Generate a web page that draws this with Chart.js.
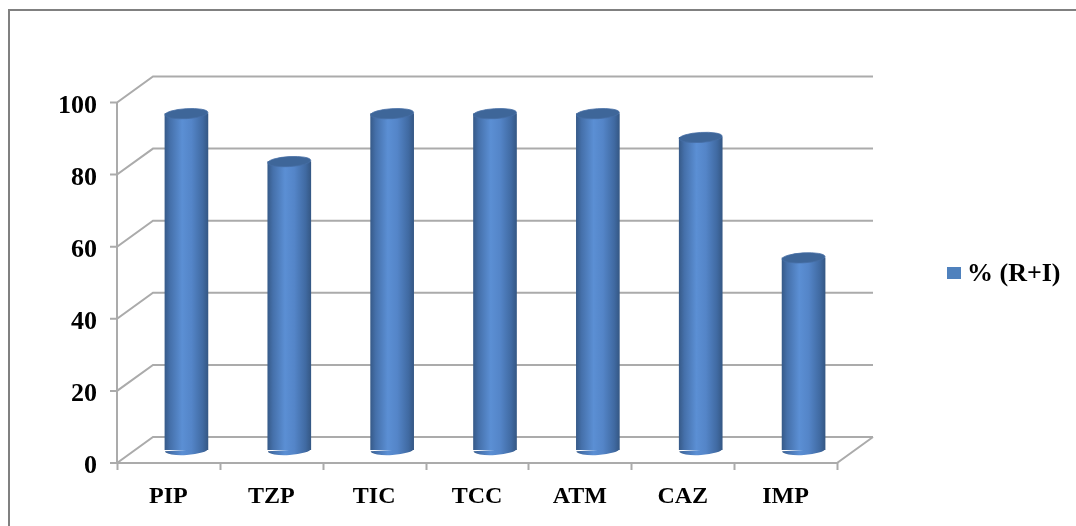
<!DOCTYPE html>
<html>
<head>
<meta charset="utf-8">
<title>% (R+I)</title>
<script src="https://cdn.jsdelivr.net/npm/chart.js@4/dist/chart.umd.min.js"></script>
<style>
  html, body { margin: 0; padding: 0; background: #ffffff; }
  #wrap { width: 1076px; height: 526px; position: relative; }
</style>
</head>
<body>
<div id="wrap"><canvas id="chart" width="1076" height="526"></canvas></div>
<script>
// Antibiotics tested and share of resistant + intermediate isolates
const categories = ['PIP', 'TZP', 'TIC', 'TCC', 'ATM', 'CAZ', 'IMP'];
const resistantPct = [93.3, 80, 93.3, 93.3, 93.3, 86.7, 53.3];
const yTicks = [0, 20, 40, 60, 80, 100];
const seriesLabel = '% (R+I)';

// depth offset of the 3D box: back wall sits up-right of the bar plane, front edge down-left
const DEPTH = { dx: 18, dy: -13 };
const BAR_W = 43;
const SERIF = '"Liberation Serif", "Times New Roman", serif';
const CAT_FONT = 'bold 24px ' + SERIF;
const VAL_FONT = 'bold 26px ' + SERIF;
const GRID = '#ababab';
const BAR_BLUE = '#4f81bd';

function cylinderGradient(ctx, cx, w) {
  if (!Number.isFinite(cx) || !Number.isFinite(w)) return BAR_BLUE;
  const g = ctx.createLinearGradient(cx - w / 2, 0, cx + w / 2, 0);
  g.addColorStop(0, '#375b8a');
  g.addColorStop(0.12, '#4570aa');
  g.addColorStop(0.4, '#5b8fd4');
  g.addColorStop(0.62, '#5485c8');
  g.addColorStop(0.88, '#406aa2');
  g.addColorStop(1, '#355885');
  return g;
}

const box3d = {
  id: 'box3d',
  beforeDatasetsDraw(chart) {
    const { ctx, chartArea: a, scales: { x, y } } = chart;
    ctx.save();
    // outer frame
    ctx.strokeStyle = '#808080';
    ctx.lineWidth = 2;
    ctx.beginPath();
    ctx.moveTo(9, 530); ctx.lineTo(9, 10); ctx.lineTo(1080, 10);
    ctx.stroke();

    ctx.lineWidth = 2;
    ctx.strokeStyle = GRID;
    const fx = a.left - DEPTH.dx, fy = -DEPTH.dy;
    yTicks.forEach(v => {
      const py = y.getPixelForValue(v);
      ctx.beginPath();
      // back wall gridline
      ctx.moveTo(a.right + DEPTH.dx, py + DEPTH.dy);
      ctx.lineTo(a.left + DEPTH.dx, py + DEPTH.dy);
      // side wall gridline
      ctx.lineTo(fx, py + fy);
      // tick on the front axis
      ctx.lineTo(fx - 7, py + fy);
      ctx.stroke();
    });
    // front vertical axis
    ctx.beginPath();
    ctx.moveTo(fx, y.getPixelForValue(yTicks[yTicks.length - 1]) + fy);
    ctx.lineTo(fx, y.getPixelForValue(0) + fy);
    // floor front edge and right edge
    const by = y.getPixelForValue(0);
    ctx.lineTo(a.right - DEPTH.dx, by + fy);
    ctx.lineTo(a.right + DEPTH.dx, by + DEPTH.dy);
    ctx.stroke();
    // category ticks under the front edge
    const step = (a.right - a.left) / categories.length;
    for (let i = 0; i <= categories.length; i++) {
      const tx = Math.round(fx + i * step) + 0.5;
      ctx.beginPath();
      ctx.moveTo(tx, by + fy);
      ctx.lineTo(tx, by + fy + 7);
      ctx.stroke();
    }

    // axis labels
    ctx.fillStyle = '#000000';
    ctx.font = VAL_FONT;
    ctx.textAlign = 'right';
    ctx.textBaseline = 'alphabetic';
    yTicks.forEach(v => {
      ctx.fillText(String(v), fx - 20, y.getPixelForValue(v) + fy + 10);
    });
    ctx.font = CAT_FONT;
    ctx.textAlign = 'center';
    categories.forEach((c, i) => {
      ctx.fillText(c, x.getPixelForValue(i) - DEPTH.dx, by + fy + 40);
    });

    // legend
    const ds = chart.data.datasets[0];
    ctx.fillStyle = BAR_BLUE;
    ctx.fillRect(947, 267, 14, 12);
    ctx.fillStyle = '#000000';
    ctx.font = VAL_FONT;
    ctx.textAlign = 'left';
    ctx.fillText(ds.label, 967, 281);
    ctx.restore();
  },
  afterDatasetsDraw(chart) {
    const { ctx } = chart;
    const meta = chart.getDatasetMeta(0);
    ctx.save();
    meta.data.forEach(bar => {
      const { x, y, base, width } = bar.getProps(['x', 'y', 'base', 'width'], true);
      const rx = width / 2, ry = 5, tilt = -0.06;
      // rounded bottom of the cylinder
      ctx.fillStyle = cylinderGradient(ctx, x, width);
      ctx.beginPath();
      ctx.ellipse(x, base, rx, ry, tilt, 0, Math.PI, false);
      ctx.fill();
      // top cap
      ctx.fillStyle = '#3e6699';
      ctx.beginPath();
      ctx.ellipse(x, y, rx, ry, tilt, 0, Math.PI * 2);
      ctx.fill();
      ctx.strokeStyle = 'rgba(70,110,165,0.8)';
      ctx.lineWidth = 1;
      ctx.stroke();
    });
    ctx.restore();
  }
};

new Chart(document.getElementById('chart'), {
  type: 'bar',
  data: {
    labels: categories,
    datasets: [{
      label: seriesLabel,
      data: resistantPct,
      barThickness: BAR_W,
      borderWidth: 0,
      backgroundColor(c) {
        const chart = c.chart;
        const xs = chart.scales && chart.scales.x;
        if (!xs || typeof c.dataIndex !== 'number') return BAR_BLUE;
        return cylinderGradient(chart.ctx, xs.getPixelForValue(c.dataIndex), BAR_W);
      }
    }]
  },
  options: {
    responsive: false,
    devicePixelRatio: 1,
    animation: false,
    layout: { padding: { left: 135, right: 221, top: 89.5, bottom: 76 } },
    scales: {
      x: { display: false, offset: true },
      y: { display: false, min: 0, max: 100 }
    },
    plugins: {
      legend: { display: false },
      tooltip: { enabled: false }
    }
  },
  plugins: [box3d]
});
</script>
</body>
</html>
